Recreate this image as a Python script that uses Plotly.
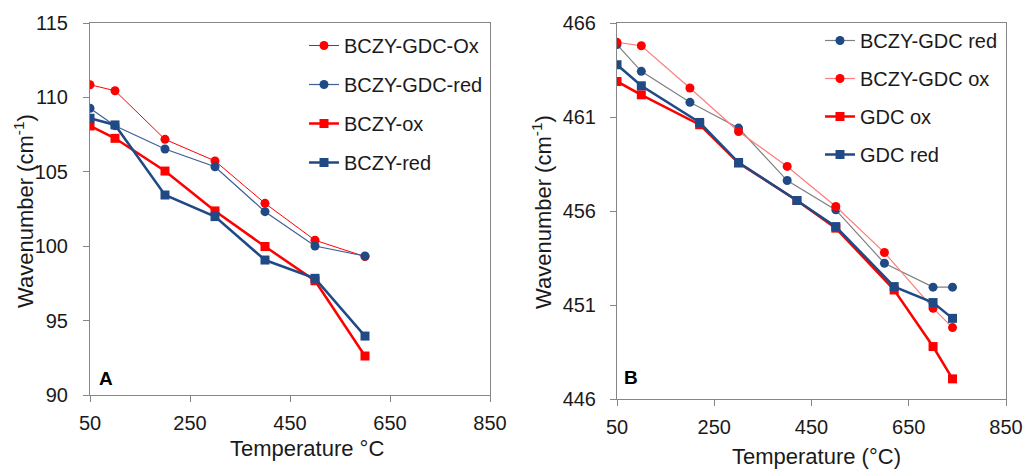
import plotly.graph_objects as go

# ---------------- Data: panel A ----------------
temp_a = [50, 100, 200, 300, 400, 500, 600]
bczy_gdc_ox_a = [110.85, 110.45, 107.18, 105.73, 102.88, 100.4, 99.3]
bczy_gdc_red_a = [109.27, 108.1, 106.53, 105.34, 102.32, 100.01, 99.34]
bczy_ox_a = [108.08, 107.25, 105.05, 102.37, 99.98, 97.68, 92.62]
bczy_red_a = [108.6, 108.15, 103.44, 101.99, 99.07, 97.84, 93.96]

# ---------------- Data: panel B ----------------
temp_b_circ = [50, 100, 200, 300, 400, 500, 600, 700, 740]
temp_b_sq = [50, 100, 220, 300, 420, 500, 620, 700, 740]
bczy_gdc_red_b = [464.85, 463.43, 461.78, 460.41, 457.62, 456.06, 453.22, 451.95, 451.95]
bczy_gdc_ox_b = [464.97, 464.79, 462.54, 460.23, 458.37, 456.24, 453.79, 450.83, 449.8]
gdc_ox_b = [462.89, 462.18, 460.59, 458.55, 456.56, 455.09, 451.8, 448.79, 447.07]
gdc_red_b = [463.78, 462.66, 460.71, 458.58, 456.56, 455.17, 451.98, 451.13, 450.29]

x_ticks = [50, 250, 450, 650, 850]

W, H = 1024, 470
RED = "#FF0000"
BLUE = "#1F4A86"
AXC = "#868686"
FONT = "Liberation Sans, Arial, sans-serif"

def px(x):
    return x / W

def py(y):
    return 1 - y / H

fig = go.Figure()

# Panel A traces
fig.add_trace(go.Scatter(x=temp_a, y=bczy_gdc_ox_a, name="BCZY-GDC-Ox", mode="lines+markers",
                         line=dict(color=RED, width=1), marker=dict(symbol="circle", size=9, color=RED),
                         xaxis="x", yaxis="y", legend="legend", legendgroup="a1"))
fig.add_trace(go.Scatter(x=temp_a, y=bczy_gdc_red_a, name="BCZY-GDC-red", mode="lines+markers",
                         line=dict(color="#3E5F96", width=1.2), marker=dict(symbol="circle", size=9, color=BLUE),
                         xaxis="x", yaxis="y", legend="legend", legendgroup="a2"))
fig.add_trace(go.Scatter(x=temp_a, y=bczy_ox_a, name="BCZY-ox", mode="lines+markers",
                         line=dict(color=RED, width=2.5), marker=dict(symbol="square", size=9, color=RED),
                         xaxis="x", yaxis="y", legend="legend", legendgroup="a3"))
fig.add_trace(go.Scatter(x=temp_a, y=bczy_red_a, name="BCZY-red", mode="lines+markers",
                         line=dict(color=BLUE, width=2.5), marker=dict(symbol="square", size=9, color=BLUE),
                         xaxis="x", yaxis="y", legend="legend", legendgroup="a4"))

# Panel B traces
fig.add_trace(go.Scatter(x=temp_b_circ, y=bczy_gdc_red_b, name="BCZY-GDC red", mode="lines+markers",
                         line=dict(color="#7F7F7F", width=1.2), marker=dict(symbol="circle", size=9, color=BLUE),
                         xaxis="x2", yaxis="y2", legend="legend2", legendgroup="b1"))
fig.add_trace(go.Scatter(x=temp_b_circ, y=bczy_gdc_ox_b, name="BCZY-GDC ox", mode="lines+markers",
                         line=dict(color="#FF7C7C", width=1.2), marker=dict(symbol="circle", size=9, color=RED),
                         xaxis="x2", yaxis="y2", legend="legend2", legendgroup="b2"))
fig.add_trace(go.Scatter(x=temp_b_sq, y=gdc_ox_b, name="GDC ox", mode="lines+markers",
                         line=dict(color=RED, width=2.5), marker=dict(symbol="square", size=9, color=RED),
                         xaxis="x2", yaxis="y2", legend="legend2", legendgroup="b3"))
fig.add_trace(go.Scatter(x=temp_b_sq, y=gdc_red_b, name="GDC red", mode="lines+markers",
                         line=dict(color=BLUE, width=2.5), marker=dict(symbol="square", size=9, color=BLUE),
                         xaxis="x2", yaxis="y2", legend="legend2", legendgroup="b4"))

axis_common = dict(showline=True, linecolor=AXC, linewidth=1, mirror=True, showgrid=False,
                   zeroline=False, ticks="outside", ticklen=6, tickcolor=AXC, automargin=False,
                   tickfont=dict(family=FONT, size=20, color="#1a1a1a"))

fig.update_layout(
    width=W, height=H,
    margin=dict(l=0, r=0, t=0, b=0, autoexpand=False),
    paper_bgcolor="white", plot_bgcolor="white",
    font=dict(family=FONT, color="#1a1a1a"),
    xaxis=dict(domain=[px(90), px(490)], range=[50, 850], tickvals=x_ticks,
               anchor="y", ticklabelstandoff=4, **axis_common),
    yaxis=dict(domain=[py(395), py(23)], range=[90, 115], tick0=90, dtick=5, anchor="x",
               ticklabelstandoff=11, **axis_common),
    xaxis2=dict(domain=[px(617), px(1006)], range=[50, 850], tickvals=x_ticks,
                anchor="y2", ticklabelstandoff=4, **axis_common),
    yaxis2=dict(domain=[py(399), py(23)], range=[446, 466], tick0=446, dtick=5, anchor="x2",
                ticklabelstandoff=10, **axis_common),
    legend=dict(x=px(304), y=py(26), xanchor="left", yanchor="top", bgcolor="rgba(0,0,0,0)",
                font=dict(family=FONT, size=20, color="#1a1a1a"), tracegroupgap=10,
                itemwidth=30),
    legend2=dict(x=px(820), y=py(21), xanchor="left", yanchor="top", bgcolor="rgba(0,0,0,0)",
                 font=dict(family=FONT, size=20, color="#1a1a1a"), tracegroupgap=9,
                 itemwidth=30),
    showlegend=True,
)

annotations = [
    dict(text="Wavenumber (cm<sup>-1</sup>)", x=px(24), y=py(211), textangle=-90),
    dict(text="Temperature °C", x=px(307), y=py(448)),
    dict(text="Wavenumber (cm<sup>-1</sup>)", x=px(542), y=py(212), textangle=-90),
    dict(text="Temperature (°C)", x=px(816), y=py(456)),
]
for a in annotations:
    a.update(xref="paper", yref="paper", showarrow=False, xanchor="center", yanchor="middle",
             font=dict(family=FONT, size=22, color="#1a1a1a"))
annotations.append(dict(text="<b>A</b>", x=px(106), y=py(378), xref="paper", yref="paper",
                        showarrow=False, xanchor="center", yanchor="middle",
                        font=dict(family=FONT, size=19, color="#000000")))
annotations.append(dict(text="<b>B</b>", x=px(631), y=py(377), xref="paper", yref="paper",
                        showarrow=False, xanchor="center", yanchor="middle",
                        font=dict(family=FONT, size=19, color="#000000")))
fig.update_layout(annotations=annotations)

fig.write_html("out.html")
